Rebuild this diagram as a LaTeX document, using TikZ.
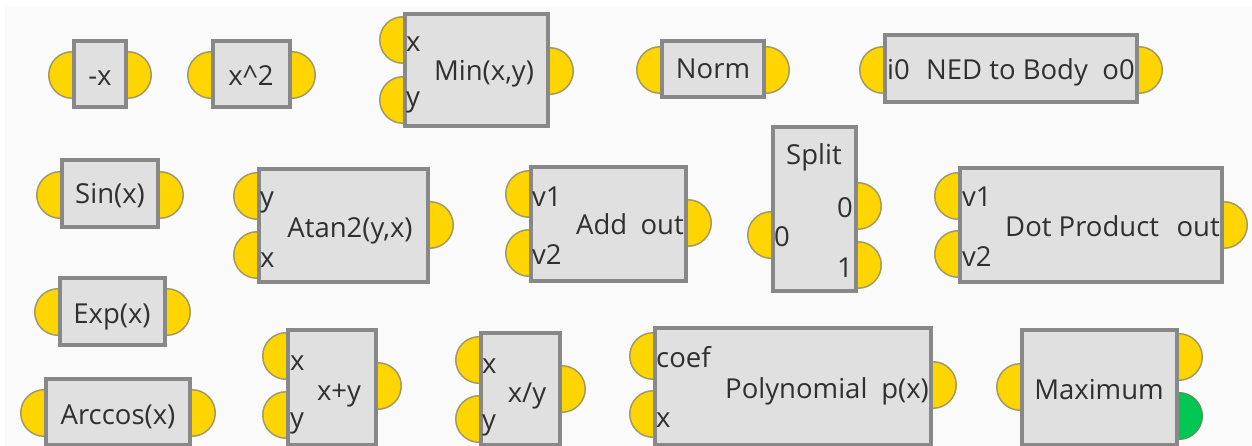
\documentclass[tikz,border=0pt]{standalone}
\usepackage{fontspec}
\setmainfont{Open Sans}
\definecolor{bgc}{HTML}{FAFAFA}
\definecolor{boxgray}{HTML}{888888}
\definecolor{boxfill}{HTML}{E0E0E0}
\definecolor{portyellow}{HTML}{FFD500}
\definecolor{portedge}{HTML}{A39A66}
\definecolor{portgreen}{HTML}{00C853}
\definecolor{greenedge}{HTML}{4C9A5E}
\definecolor{txt}{HTML}{303030}
\newcommand\lbf{\fontsize{27.5}{32}\selectfont}
\newcommand\mkblock[5]{\node[blk, minimum width={#4-#2-4}, minimum height={#5-#3-4}] (#1) at ({(#2+#4)/2},{(#3+#5)/2}) {};}
\newcommand\mkport[4][port]{\node[#1] (#2) at (#3,#4) {};}
\tikzset{
  blk/.style={draw=boxgray, line width=4pt, fill=boxfill, inner sep=0pt},
  port/.style={circle, draw=portedge, line width=1.5pt, fill=portyellow, minimum size=46.5pt, inner sep=0pt},
  gport/.style={port, draw=greenedge, fill=portgreen},
  lbl/.style={font=\lbf, text=txt, inner sep=0pt, anchor=base},
  lbll/.style={lbl, anchor=base west},
  lblr/.style={lbl, anchor=base east},
}
\begin{document}
\begin{tikzpicture}[x=1pt,y=-1pt]
\useasboundingbox (0,0) rectangle (1252,446);
\fill[white] (0,0) rectangle (1252,446);
\fill[bgc] (5,7) rectangle (1252,446);
% ---------- ports ----------
\mkport{neg-i}{72}{75}\mkport{neg-o}{128}{75}
\mkport{sq-i}{211}{75}\mkport{sq-o}{292}{75}
\mkport{min-x}{403}{40}\mkport{min-y}{403}{100}\mkport{min-o}{550}{71}
\mkport{norm-i}{660}{70}\mkport{norm-o}{766}{70}
\mkport{ned-i}{883}{70}\mkport{ned-o}{1139}{70}
\mkport{sin-i}{60}{195}\mkport{sin-o}{160}{195}
\mkport{atan-y}{257}{196}\mkport{atan-x}{257}{255}\mkport{atan-o}{430}{225}
\mkport{add-a}{529}{194}\mkport{add-b}{529}{253}\mkport{add-o}{688}{223}
\mkport{split-i}{771}{235}\mkport{split-a}{858}{206}\mkport{split-b}{858}{265}
\mkport{dot-a}{958}{196}\mkport{dot-b}{958}{254}\mkport{dot-o}{1224}{225}
\mkport{exp-i}{58}{312}\mkport{exp-o}{167}{312}
\mkport{acos-i}{44}{413}\mkport{acos-o}{192}{413}
\mkport{plus-x}{286}{356}\mkport{plus-y}{286}{415}\mkport{plus-o}{378}{386}
\mkport{div-x}{479}{360}\mkport{div-y}{479}{419}\mkport{div-o}{562}{389}
\mkport{poly-c}{653}{356}\mkport{poly-x}{653}{414}\mkport{poly-o}{933}{385}
\mkport{max-i}{1020}{387}\mkport{max-o}{1179}{357}\mkport[gport]{max-g}{1179}{416}
% ---------- blocks ----------
\mkblock{neg}{72}{39}{128}{109}
\mkblock{sq}{211}{39}{292}{109}
\mkblock{min}{403}{12}{550}{128}
\mkblock{norm}{660}{39}{766}{99}
\mkblock{ned}{883}{33}{1139}{104}
\mkblock{sin}{60}{158}{160}{229}
\mkblock{atan}{257}{167}{430}{284}
\mkblock{add}{529}{165}{688}{283}
\mkblock{split}{771}{125}{858}{293}
\mkblock{dot}{958}{166}{1224}{284}
\mkblock{exp}{58}{276}{167}{347}
\mkblock{acos}{44}{377}{192}{447}
\mkblock{plus}{286}{328}{378}{447}
\mkblock{div}{479}{331}{562}{447}
\mkblock{poly}{653}{326}{933}{447}
\mkblock{max}{1020}{328}{1179}{447}
% ---------- labels ----------
\node[lbl] (neg-t) at (100,86) {-x};
\node[lbl] (sq-t) at (251,86) {x\textasciicircum 2};
\node[lbll] (min-lx) at (406,52) {x};
\node[lbll] (min-ly) at (406,107) {y};
\node[lbl] (min-t) at (484,81) {Min(x,y)};
\node[lbl] (norm-t) at (713,79) {Norm};
\node[lbll] (ned-li) at (887,80) {i0};
\node[lbl] (ned-t) at (1007,80) {NED to Body};
\node[lblr] (ned-lo) at (1135,80) {o0};
\node[lbl] (sin-t) at (110,204) {Sin(x)};
\node[lbll] (atan-ly) at (260,207) {y};
\node[lbll] (atan-lx) at (260,267) {x};
\node[lbl] (atan-t) at (350,238) {Atan2(y,x)};
\node[lbll] (add-la) at (532,207) {v1};
\node[lbll] (add-lb) at (532,265) {v2};
\node[lbll] (add-t) at (576,235) {Add};
\node[lblr] (add-lo) at (684,235) {out};
\node[lbl] (split-t) at (814,165) {Split};
\node[lbll] (split-li) at (774,247) {0};
\node[lblr] (split-la) at (853,218) {0};
\node[lblr] (split-lb) at (853,277) {1};
\node[lbll] (dot-la) at (962,207) {v1};
\node[lbll] (dot-lb) at (962,266) {v2};
\node[lbll] (dot-t) at (1005,237) {Dot Product};
\node[lblr] (dot-lo) at (1220,237) {out};
\node[lbl] (exp-t) at (112,323) {Exp(x)};
\node[lbl] (acos-t) at (118,424) {Arccos(x)};
\node[lbll] (plus-lx) at (290,370) {x};
\node[lbll] (plus-ly) at (290,427) {y};
\node[lbl] (plus-t) at (339,400) {x+y};
\node[lbll] (div-lx) at (482,373) {x};
\node[lbll] (div-ly) at (482,429) {y};
\node[lbl] (div-t) at (527,402) {x/y};
\node[lbll] (poly-lc) at (656,367) {coef};
\node[lbll] (poly-lx) at (656,427) {x};
\node[lbll] (poly-t) at (725,398) {Polynomial};
\node[lblr] (poly-lo) at (929,398) {p(x)};
\node[lbl] (max-t) at (1099,399) {Maximum};
\end{tikzpicture}
\end{document}
